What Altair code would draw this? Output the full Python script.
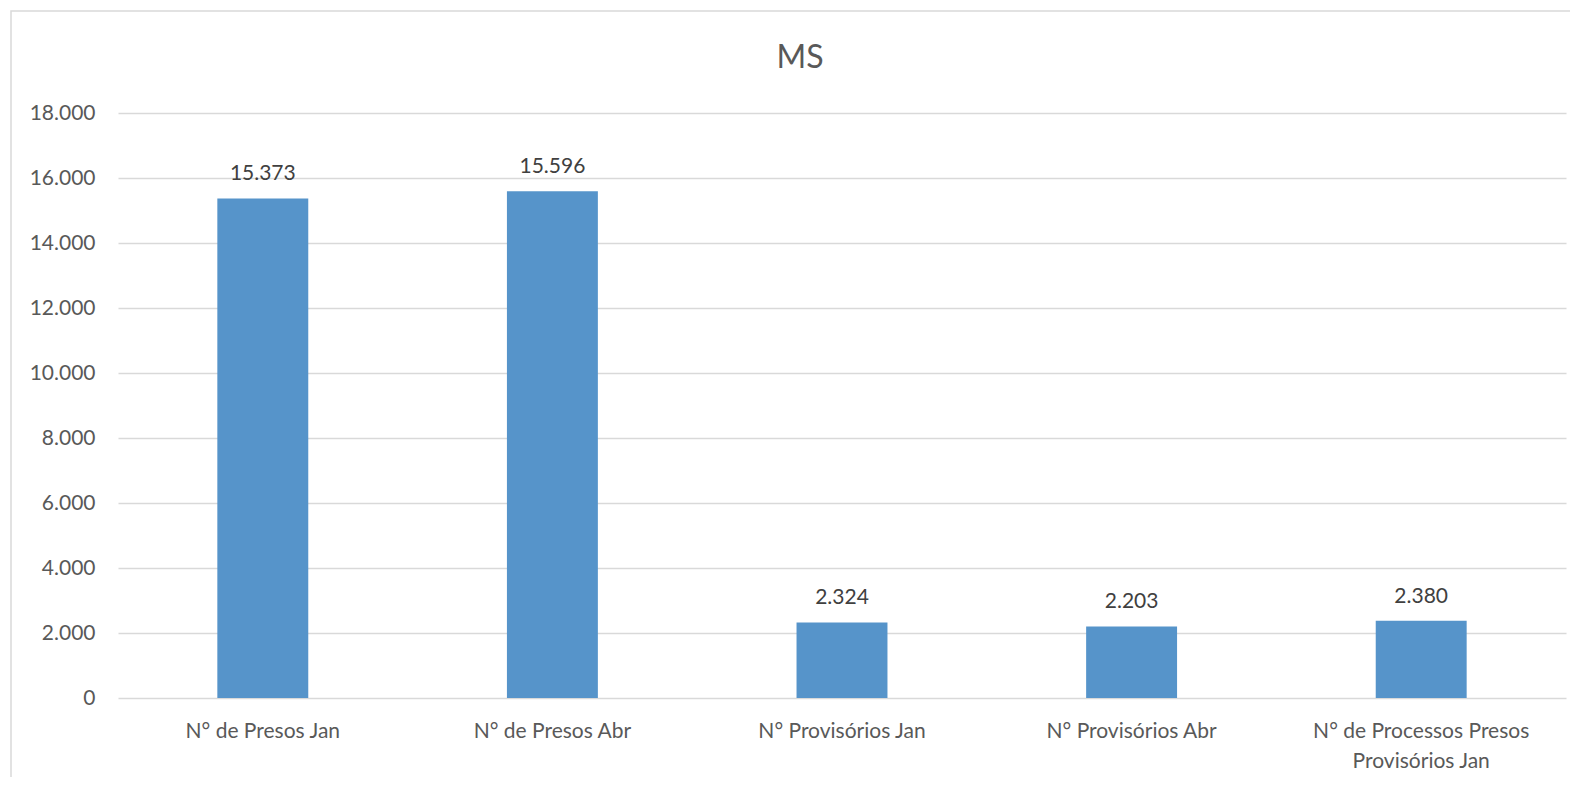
import altair as alt
import pandas as pd

categories = [
    "N° de Presos Jan",
    "N° de Presos Abr",
    "N° Provisórios Jan",
    "N° Provisórios Abr",
    "N° de Processos Presos Provisórios Jan",
]
values = [15373, 15596, 2324, 2203, 2380]
y_ticks = [0, 2000, 4000, 6000, 8000, 10000, 12000, 14000, 16000, 18000]

df = pd.DataFrame({"categoria": categories, "valor": values})

FONT = "Lato"
BAR = "#5694CA"

x_enc = alt.X(
    "categoria:N",
    sort=categories,
    title=None,
    scale=alt.Scale(paddingInner=0.686, paddingOuter=0.343),
    axis=alt.Axis(
        labelAngle=0,
        labelFont=FONT,
        labelFontSize=21,
        labelColor="#595959",
        labelPadding=22,
        labelLineHeight=30,
        ticks=False,
        domain=False,
        grid=False,
        labelLimit=400,
        labelExpr="datum.value == 'N° de Processos Presos Provisórios Jan' ? ['N° de Processos Presos', 'Provisórios Jan'] : datum.value",
    ),
)

y_enc = alt.Y(
    "valor:Q",
    title=None,
    scale=alt.Scale(domain=[0, 18000], nice=False),
    axis=alt.Axis(
        values=y_ticks,
        labelFont=FONT,
        labelFontSize=21,
        labelColor="#595959",
        labelPadding=23,
        ticks=False,
        domain=False,
        grid=True,
        gridColor="#d9d9d9",
        gridWidth=1.5,
        labelExpr="replace(format(datum.value, ','), ',', '.')",
    ),
)

base = alt.Chart(df)

bars = base.mark_bar(color=BAR).encode(x=x_enc, y=y_enc)

labels = (
    base.transform_calculate(rotulo="replace(format(datum.valor, ','), ',', '.')")
    .mark_text(font=FONT, fontSize=21, color="#404040", baseline="alphabetic", dy=-18)
    .encode(x=alt.X("categoria:N", sort=categories), y="valor:Q", text="rotulo:N")
)

frame = (
    alt.Chart(pd.DataFrame({"a": [0]}))
    .mark_rect(fill="transparent", stroke="#d9d9d9", strokeWidth=1.5, clip=False)
    .encode(
        x=alt.value(-107),
        x2=alt.value(1480),
        y=alt.value(-102),
        y2=alt.value(700),
    )
)

chart = (
    alt.layer(frame, bars, labels)
    .properties(
        width=1448,
        height=585,
        background="white",
        padding={"left": 110, "top": 105, "right": 4, "bottom": 79},
        autosize=alt.AutoSizeParams(type="none"),
        title=alt.TitleParams(
            "MS",
            font=FONT,
            fontSize=32,
            fontWeight="normal",
            color="#595959",
            anchor="middle",
            baseline="alphabetic",
            offset=-90,
            dx=-42,
        ),
    )
    .configure_view(strokeWidth=0)
)

chart.save("out.html", embed_options={"renderer": "svg", "actions": False})
